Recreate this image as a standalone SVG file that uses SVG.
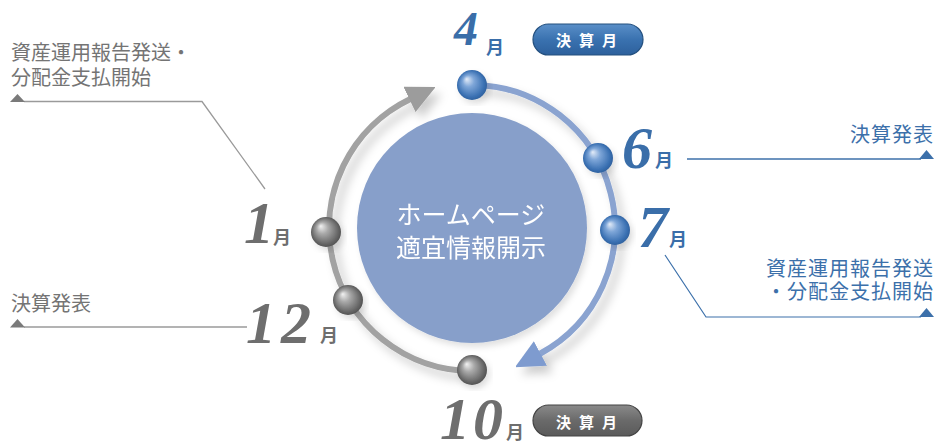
<svg xmlns="http://www.w3.org/2000/svg" width="936" height="441" viewBox="0 0 936 441">
<defs>
<style>
.num{font-family:"Liberation Serif","DejaVu Serif",serif;font-style:italic;font-weight:bold;font-size:60px}
.blue{fill:#3a6ea9}
.gray{fill:#6e6e6e}
.mon{font-family:"Noto Sans CJK JP","Noto Sans",sans-serif;font-weight:bold;font-size:18px}
.lbl{font-family:"Noto Sans CJK JP","Noto Sans",sans-serif;font-size:20px}
.lblb{fill:#3c70aa;letter-spacing:1px}
.lblg{fill:#747474}
.badge{font-family:"Noto Sans CJK JP","Noto Sans",sans-serif;font-weight:bold;font-size:15px;fill:#fff;letter-spacing:8px}
.ctr{font-family:"Noto Sans CJK JP","Noto Sans",sans-serif;font-size:25px;fill:#fff;text-anchor:middle}
</style>
<radialGradient id="ballB" cx="0.5" cy="0.5" r="0.55" fx="0.32" fy="0.3">
<stop offset="0" stop-color="#e4ecf8"/><stop offset="0.35" stop-color="#7ea6d8"/><stop offset="0.8" stop-color="#3a70b2"/><stop offset="1" stop-color="#2b5a95"/>
</radialGradient>
<radialGradient id="ballG" cx="0.5" cy="0.5" r="0.55" fx="0.32" fy="0.3">
<stop offset="0" stop-color="#f2f2f2"/><stop offset="0.35" stop-color="#a9a9a9"/><stop offset="0.8" stop-color="#666"/><stop offset="1" stop-color="#4a4a4a"/>
</radialGradient>
<linearGradient id="badgeB" x1="0" y1="0" x2="0" y2="1">
<stop offset="0" stop-color="#5a8fc8"/><stop offset="0.5" stop-color="#3a72b0"/><stop offset="1" stop-color="#2d609c"/>
</linearGradient>
<linearGradient id="badgeG" x1="0" y1="0" x2="0" y2="1">
<stop offset="0" stop-color="#8a8a8a"/><stop offset="0.5" stop-color="#6a6a6a"/><stop offset="1" stop-color="#5a5a5a"/>
</linearGradient>
<filter id="shadow" x="-20%" y="-20%" width="150%" height="150%">
<feGaussianBlur in="SourceAlpha" stdDeviation="5"/>
<feOffset dx="6" dy="7" result="b"/>
<feFlood flood-color="#000" flood-opacity="0.2"/>
<feComposite in2="b" operator="in"/>
<feMerge><feMergeNode/><feMergeNode in="SourceGraphic"/></feMerge>
</filter>
<filter id="soft" x="-20%" y="-20%" width="140%" height="140%">
<feGaussianBlur in="SourceAlpha" stdDeviation="3"/>
<feOffset dx="3" dy="4" result="b"/>
<feFlood flood-color="#000" flood-opacity="0.12"/>
<feComposite in2="b" operator="in"/>
<feMerge><feMergeNode/><feMergeNode in="SourceGraphic"/></feMerge>
</filter>
<marker id="arrB" viewBox="0 0 28 28" refX="1" refY="14" markerWidth="28" markerHeight="28" markerUnits="userSpaceOnUse" orient="auto">
<path d="M0,0 L29,14 L0,28 z" fill="#7e9bcf"/>
</marker>
<marker id="arrG" viewBox="0 0 28 28" refX="1" refY="14" markerWidth="28" markerHeight="28" markerUnits="userSpaceOnUse" orient="auto">
<path d="M0,0 L29,14 L0,28 z" fill="#9c9c9c"/>
</marker>
</defs>
<rect width="936" height="441" fill="#fff"/>

<g id="center" filter="url(#soft)">
<circle cx="472" cy="228" r="115" fill="#879fca"/>
<text class="ctr" x="471" y="224">ホームページ</text>
<text class="ctr" x="471" y="257">適宜情報開示</text>
</g>

<g id="connectors">
<g filter="url(#shadow)">
<path d="M472,85 A143,143 0 0 1 539.6,354" fill="none" stroke="#8aa3d0" stroke-width="6" marker-end="url(#arrB)"/>
<path d="M472,371 A143,143 0 0 1 410.4,99" fill="none" stroke="#a2a2a2" stroke-width="6" marker-end="url(#arrG)"/>
</g>
<polyline points="687,159 921,159" fill="none" stroke="#3c70aa" stroke-width="1.5"/>
<polyline points="665,255 706,317 921,317" fill="none" stroke="#3c70aa" stroke-width="1.2"/>
<polyline points="265,189 202,101.5 24,101.5" fill="none" stroke="#9a9a9a" stroke-width="1.3"/>
<polyline points="247,327 24,327" fill="none" stroke="#9a9a9a" stroke-width="1.5"/>
<polygon points="919,159 934,159 926.5,150" fill="#3c70aa"/>
<polygon points="919,317 934,317 926.5,308" fill="#3c70aa"/>
<polygon points="10,102 25,102 17.5,94" fill="#7a7a7a"/>
<polygon points="10,327.5 25,327.5 17.5,319" fill="#7a7a7a"/>
</g>

<g id="m4">
<circle cx="472" cy="85" r="15" fill="url(#ballB)" filter="url(#soft)"/>
<text class="num blue" x="454" y="45" style="font-size:48px">4</text>
<text class="mon blue" x="486" y="54">月</text>
</g>
<g id="m6">
<circle cx="598" cy="158" r="15" fill="url(#ballB)" filter="url(#soft)"/>
<text class="num blue" x="622" y="168">6</text>
<text class="mon blue" x="655" y="167">月</text>
</g>
<g id="m7">
<circle cx="615" cy="230" r="15" fill="url(#ballB)" filter="url(#soft)"/>
<text class="num blue" x="638" y="247">7</text>
<text class="mon blue" x="669" y="246">月</text>
</g>
<g id="m10">
<circle cx="472" cy="370" r="15" fill="url(#ballG)" filter="url(#soft)"/>
<text class="num gray" x="440" y="439" style="letter-spacing:3px">10</text>
<text class="mon gray" x="506" y="439">月</text>
</g>
<g id="m12">
<circle cx="348" cy="300" r="15" fill="url(#ballG)" filter="url(#soft)"/>
<text class="num gray" x="246" y="343" style="letter-spacing:5px">12</text>
<text class="mon gray" x="320" y="342">月</text>
</g>
<g id="m1">
<circle cx="326" cy="232" r="15" fill="url(#ballG)" filter="url(#soft)"/>
<text class="num gray" x="244" y="243">1</text>
<text class="mon gray" x="273" y="244">月</text>
</g>

<g id="badge-apr">
<rect x="533" y="24" width="110" height="31" rx="15.5" fill="url(#badgeB)" stroke="#24507f" stroke-width="1.2"/>
<text class="badge" x="556" y="46">決算月</text>
</g>
<g id="badge-oct">
<rect x="533" y="405" width="109" height="31" rx="15.5" fill="url(#badgeG)" stroke="#444" stroke-width="1.2"/>
<text class="badge" x="556" y="428">決算月</text>
</g>

<g id="note-left-top">
<text class="lbl lblg" x="11" y="60">資産運用報告発送・</text>
<text class="lbl lblg" x="11" y="85">分配金支払開始</text>
</g>
<g id="note-left-bottom">
<text class="lbl lblg" x="11" y="311">決算発表</text>
</g>
<g id="note-right-top">
<text class="lbl lblb" x="850" y="142">決算発表</text>
</g>
<g id="note-right-bottom">
<text class="lbl lblb" x="766" y="276">資産運用報告発送</text>
<text class="lbl lblb" x="766" y="299">・分配金支払開始</text>
</g>
</svg>
